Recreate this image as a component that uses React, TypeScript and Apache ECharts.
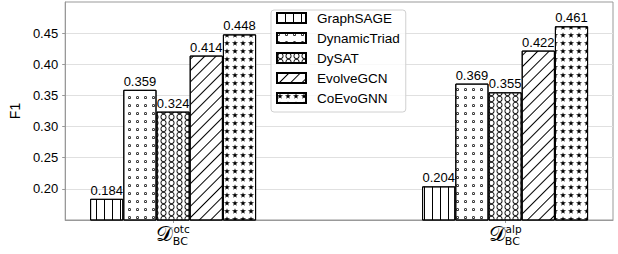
import React, { useEffect, useRef } from 'react';
import * as echarts from 'echarts';

// ---- data ----
const groupSup = ['otc', 'alp'];
const groupSub = ['BC', 'BC'];
const methods = ['GraphSAGE', 'DynamicTriad', 'DySAT', 'EvolveGCN', 'CoEvoGNN'];
const graphSAGE = [0.184, 0.204];
const dynamicTriad = [0.359, 0.369];
const dySAT = [0.324, 0.355];
const evolveGCN = [0.414, 0.422];
const coEvoGNN = [0.448, 0.461];
const yTicks = [0.2, 0.25, 0.3, 0.35, 0.4, 0.45];
const groupTicks = [0, 1];

const BAR_STEP = 0.1; // axis units between neighbouring bars of a group
const FONT = '"Liberation Sans", Arial, Helvetica, sans-serif';
const GRID_GRAY = '#999999';

const RING_SMALL =
  'path://M50,0A50,50 0 1,1 50,100A50,50 0 1,1 50,0ZM50,24A26,26 0 1,0 50,76A26,26 0 1,0 50,24Z';
const RING_LARGE =
  'path://M50,0A50,50 0 1,1 50,100A50,50 0 1,1 50,0ZM50,14A36,36 0 1,0 50,86A36,36 0 1,0 50,14Z';
const STAR =
  'path://M50,0L61.17,34.63L97.55,34.55L68.07,55.87L79.39,90.45L50,69L20.61,90.45L31.93,55.87L2.45,34.55L38.83,34.63Z';

export default function App() {
  const ref = useRef<HTMLDivElement>(null);
  useEffect(() => {
    document.body.style.margin = '0';
    const chart = echarts.init(ref.current!, null, { renderer: 'svg' });
    const seriesValues = [graphSAGE, dynamicTriad, dySAT, evolveGCN, coEvoGNN];
    const decals: any[] = [
      { symbol: 'rect', symbolSize: 1, symbolKeepAspect: false, color: '#000', dashArrayX: [1, 7], dashArrayY: [8, 0] },
      { symbol: RING_SMALL, symbolSize: 1, symbolKeepAspect: true, color: '#000', dashArrayX: [3, 5], dashArrayY: [3, 5] },
      { symbol: RING_LARGE, symbolSize: 1, symbolKeepAspect: true, color: '#000', dashArrayX: [7, 1], dashArrayY: [6, 0] },
      { symbol: 'rect', symbolSize: 1, symbolKeepAspect: false, color: '#000', dashArrayX: [8, 0], dashArrayY: [1, 7], rotation: -Math.PI / 4 },
      { symbol: STAR, symbolSize: 1, symbolKeepAspect: true, color: '#000', dashArrayX: [6, 2], dashArrayY: [6, 2] },
    ];
    const series = methods.map((name, i) => ({
      type: 'bar',
      name,
      data: seriesValues[i].map((v, g) => [g + (i - 2) * BAR_STEP, v]),
      barWidth: '100%',
      barGap: '-100%',
      itemStyle: { color: '#ffffff', borderColor: '#000', borderWidth: 1, decal: decals[i] },
      label: {
        show: true,
        position: 'top',
        distance: 2,
        fontSize: 13,
        fontFamily: FONT,
        color: '#000',
        formatter: (p: any) => Number(p.value[1]).toFixed(3),
      },
    }));

    chart.setOption({
      animation: false,
      backgroundColor: '#ffffff',
      grid: { left: 62, right: 5, top: 2, bottom: 34, show: true, borderColor: GRID_GRAY, borderWidth: 1 },
      legend: {
        data: methods,
        orient: 'vertical',
        left: 271,
        top: 10,
        icon: 'rect',
        itemWidth: 29,
        itemHeight: 10,
        itemGap: 6,
        padding: [1, 6, 7, 5],
        borderColor: '#d0d0d0',
        borderWidth: 1,
        borderRadius: 3,
        backgroundColor: 'rgba(255,255,255,0.8)',
        textStyle: { fontSize: 13.5, fontFamily: FONT, color: '#000', lineHeight: 14, padding: [0, 0, 0, 6] },
      },
      xAxis: {
        type: 'value',
        min: -0.325,
        max: 1.325,
        splitLine: { show: false },
        axisLine: { show: true, onZero: false, lineStyle: { color: GRID_GRAY } },
        axisTick: { show: true, length: 3, customValues: groupTicks, lineStyle: { color: GRID_GRAY } },
        axisLabel: {
          customValues: groupTicks,
          margin: 4,
          formatter: (v: number) => {
            const g = Math.round(v);
            return `{D|𝒟}{sup|${groupSup[g]}}\n{sp|}{sub|${groupSub[g]}}`;
          },
          rich: {
            D: { width: 17, fontSize: 21, lineHeight: 6, verticalAlign: 'middle', padding: [10, 0, 0, 0], fontFamily: '"DejaVu Serif", "DejaVu Sans", serif', color: '#000' },
            sup: { fontSize: 10.5, lineHeight: 10, fontFamily: '"DejaVu Sans"', color: '#000' },
            sp: { width: 14.5, fontSize: 11, lineHeight: 14 },
            sub: { fontSize: 11, lineHeight: 14, fontFamily: '"DejaVu Sans"', color: '#000' },
          },
        },
      },
      yAxis: {
        type: 'value',
        min: 0.15,
        max: 0.5,
        interval: 0.05,
        name: 'F1',
        nameLocation: 'middle',
        nameGap: 32,
        nameTextStyle: { fontSize: 14, fontFamily: FONT, color: '#000' },
        axisLine: { show: true, onZero: false, lineStyle: { color: GRID_GRAY } },
        axisTick: { show: true, length: 3, customValues: yTicks, lineStyle: { color: GRID_GRAY } },
        axisLabel: {
          customValues: yTicks,
          margin: 7,
          fontSize: 13,
          fontFamily: FONT,
          color: '#000',
          formatter: (v: number) => v.toFixed(2),
        },
        splitLine: { show: true, lineStyle: { color: '#e0e0e0', width: 1 } },
      },
      series,
    } as any);
    return () => chart.dispose();
  }, []);
  return <div ref={ref} style={{ width: 618, height: 254 }} />;
}
